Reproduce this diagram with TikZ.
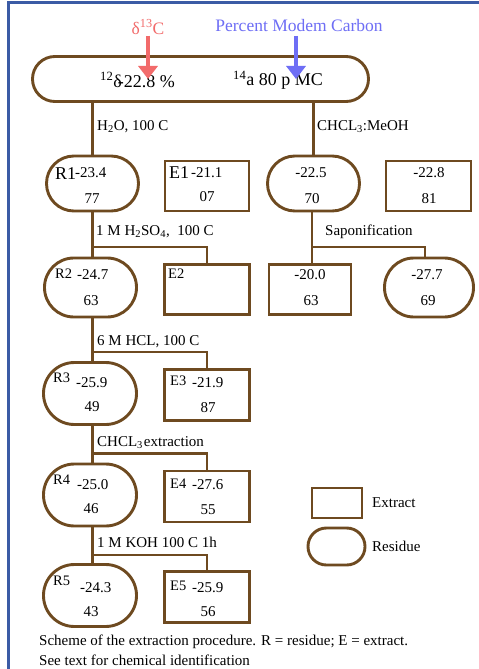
\documentclass[tikz,border=0pt]{standalone}
\usepackage{fontspec}
\setmainfont{Liberation Serif}
\usetikzlibrary{arrows.meta}
\definecolor{brn}{HTML}{6E4A20}
\definecolor{frm}{HTML}{3B5BA5}
\definecolor{redt}{HTML}{F26B6B}
\definecolor{bluet}{HTML}{6E6EF5}
\tikzset{
  box/.style={draw=brn, line width=2.9pt, rectangle, inner sep=0pt},
  res/.style={draw=brn, line width=2.9pt, rectangle, rounded corners=#1, inner sep=0pt},
  conn/.style={draw=brn, line width=2.9pt},
  t/.style={inner sep=0pt, font=\fontsize{15}{17}\selectfont},
  tb/.style={inner sep=0pt, font=\fontsize{18}{20}\selectfont},
  ts/.style={inner sep=0pt, font=\fontsize{14.5}{16}\selectfont},
  ptr/.style={line width=3.4pt, -{Triangle[width=19pt,length=13pt]}},
}
\begin{document}
\begin{tikzpicture}[x=1pt,y=-1pt]
\useasboundingbox (0,0) rectangle (479,669);
\fill[white] (0,0) rectangle (479,669);
% frame
\draw[frm, line width=2.6pt] (8.5,669) -- (8.5,2.5) -- (479,2.5);

% top oval
\node[res=22.4pt, minimum width=336pt, minimum height=45pt] (top) at (200.5,79) {};
\node[tb, anchor=west] (ttl) at (100,80) {\textsuperscript{12}δ\kern-4pt-22.8 \%};
\node[tb, anchor=west] (ttr) at (233,80) {\textsuperscript{14}a 80 p MC};

% headings and arrows
\node[inner sep=0pt, font=\fontsize{17.5}{19}\selectfont, text=redt] (dlab) at (148,27) {δ\textsuperscript{13}C};
\node[inner sep=0pt, font=\fontsize{17.5}{19}\selectfont, text=bluet] (plab) at (299,26) {Percent Modem Carbon};
\coordinate (dtip) at (148,79);
\coordinate (ptip) at (296,79);
\draw[ptr, redt] (148,36) -- (dtip);
\draw[ptr, bluet] (296,36) -- (ptip);

% row 1
\node[res=27.4pt, minimum width=92pt, minimum height=55pt] (R1) at (92.5,183.5) {};
\node[box, minimum width=84pt, minimum height=50pt] (E1) at (207,186) {};
\node[res=27.4pt, minimum width=92pt, minimum height=55pt] (RO1) at (313.5,183.5) {};
\node[box, minimum width=85pt, minimum height=50pt] (RE1) at (428.5,186) {};

% row 2
\node[res=29.4pt, minimum width=92pt, minimum height=59pt] (R2) at (90.5,287.5) {};
\node[box, minimum width=85pt, minimum height=50pt] (E2) at (207,289.5) {};
\node[box, minimum width=82pt, minimum height=50pt] (RE2) at (310,289.5) {};
\node[res=29.4pt, minimum width=89pt, minimum height=59pt] (RO2) at (429,287.5) {};

% rows 3-5
\node[res=30.9pt, minimum width=93pt, minimum height=62pt] (R3) at (90,393.5) {};
\node[box, minimum width=85pt, minimum height=51pt] (E3) at (207,395) {};
\node[res=30.9pt, minimum width=93pt, minimum height=62pt] (R4) at (90,495) {};
\node[box, minimum width=85pt, minimum height=51pt] (E4) at (207,496.5) {};
\node[res=30.9pt, minimum width=93pt, minimum height=62pt] (R5) at (90,595.5) {};
\node[box, minimum width=85pt, minimum height=51pt] (E5) at (207,597) {};

% legend
\node[box, minimum width=50pt, minimum height=30pt] (LE) at (337,503) {};
\node[res=18.4pt, minimum width=57pt, minimum height=37pt] (LR) at (336.5,546.5) {};
\node[t, anchor=west] (LEt) at (372,503) {Extract};
\node[t, anchor=west] (LRt) at (372,546.5) {Residue};

% connectors
\coordinate (c1) at (92.5,0);
\draw[conn] (top.south -| c1) -- (R1.north -| c1);
\draw[conn] (top.south -| RO1) -- (RO1.north);
\coordinate (b2) at (92.5,247);
\coordinate (b3) at (92.5,352);
\coordinate (b4) at (92.5,453.5);
\coordinate (b5) at (92.5,555);
\draw[conn] (R1.south -| c1) -- (R2.north -| c1);
\draw[conn] (b2) -| (E2.north);
\draw[conn] (R2.south -| c1) -- (R3.north -| c1);
\draw[conn] (b3) -| (E3.north);
\draw[conn] (R3.south -| c1) -- (R4.north -| c1);
\draw[conn] (b4) -| (E4.north);
\draw[conn] (R4.south -| c1) -- (R5.north -| c1);
\draw[conn] (b5) -| (E5.north);
\coordinate (rb) at (312,247);
\coordinate (rd) at (425,247);
\draw[conn] (RO1.south -| rb) -- (RE2.north -| rb);
\draw[conn] (rb) -- (rd) -- (rd |- RO2.north);

% connector labels
\node[t, anchor=west] (l1) at (97,127) {H\textsubscript{2}O, 100 C};
\node[t, anchor=west] (l2) at (317,127) {CHCL\textsubscript{3}:MeOH};
\node[t, anchor=west] (l3) at (96,232) {1 M H\textsubscript{2}SO\textsubscript{4},\ \ 100 C};
\node[t, anchor=west] (l4) at (325,232) {Saponification};
\node[t, anchor=west] (l5) at (97,342) {6 M HCL, 100 C};
\node[t, anchor=west] (l6) at (97,443) {CHCL\textsubscript{3}\kern1pt extraction};
\node[t, anchor=west] (l7) at (97,542) {1 M KOH 100 C 1h};

% node texts
\node[tb, anchor=west] (R1a) at (55,174) {R1};
\node[t, anchor=west] (R1b) at (75,173) {-23.4};
\node[t] (R1c) at (92,199) {77};
\node[tb, anchor=west] (E1a) at (169,173) {E1};
\node[t, anchor=west] (E1b) at (191,173) {-21.1};
\node[t] (E1c) at (207,197) {07};
\node[t] (RO1b) at (311,173) {-22.5};
\node[t] (RO1c) at (312,199) {70};
\node[t] (RE1b) at (429,173) {-22.8};
\node[t] (RE1c) at (429,199) {81};

\node[ts, anchor=west] (R2a) at (55,274) {R2};
\node[t, anchor=west] (R2b) at (77,275) {-24.7};
\node[t] (R2c) at (91,301) {63};
\node[ts, anchor=west] (E2a) at (168,274) {E2};
\node[t] (RE2b) at (310,275) {-20.0};
\node[t] (RE2c) at (311,301) {63};
\node[t] (RO2b) at (427,275) {-27.7};
\node[t] (RO2c) at (428,301) {69};

\node[ts, anchor=west] (R3a) at (53,378) {R3};
\node[t, anchor=west] (R3b) at (76,383) {-25.9};
\node[t] (R3c) at (92,407) {49};
\node[ts, anchor=west] (E3a) at (170,381) {E3};
\node[t, anchor=west] (E3b) at (192,383) {-21.9};
\node[t] (E3c) at (208,408) {87};

\node[ts, anchor=west] (R4a) at (53,480) {R4};
\node[t, anchor=west] (R4b) at (77,485) {-25.0};
\node[t] (R4c) at (91,509) {46};
\node[ts, anchor=west] (E4a) at (170,484) {E4};
\node[t, anchor=west] (E4b) at (192,485) {-27.6};
\node[t] (E4c) at (208,510) {55};

\node[ts, anchor=west] (R5a) at (53,581) {R5};
\node[t, anchor=west] (R5b) at (80,588) {-24.3};
\node[t] (R5c) at (91,612) {43};
\node[ts, anchor=west] (E5a) at (170,586) {E5};
\node[t, anchor=west] (E5b) at (192,588) {-25.9};
\node[t] (E5c) at (208,612) {56};

% caption
\node[t, anchor=west] (cap1) at (39,642) {Scheme of the extraction procedure. R = residue; E = extract.};
\node[t, anchor=west] (cap2) at (39,660) {See text for chemical identification};
\end{tikzpicture}
\end{document}
